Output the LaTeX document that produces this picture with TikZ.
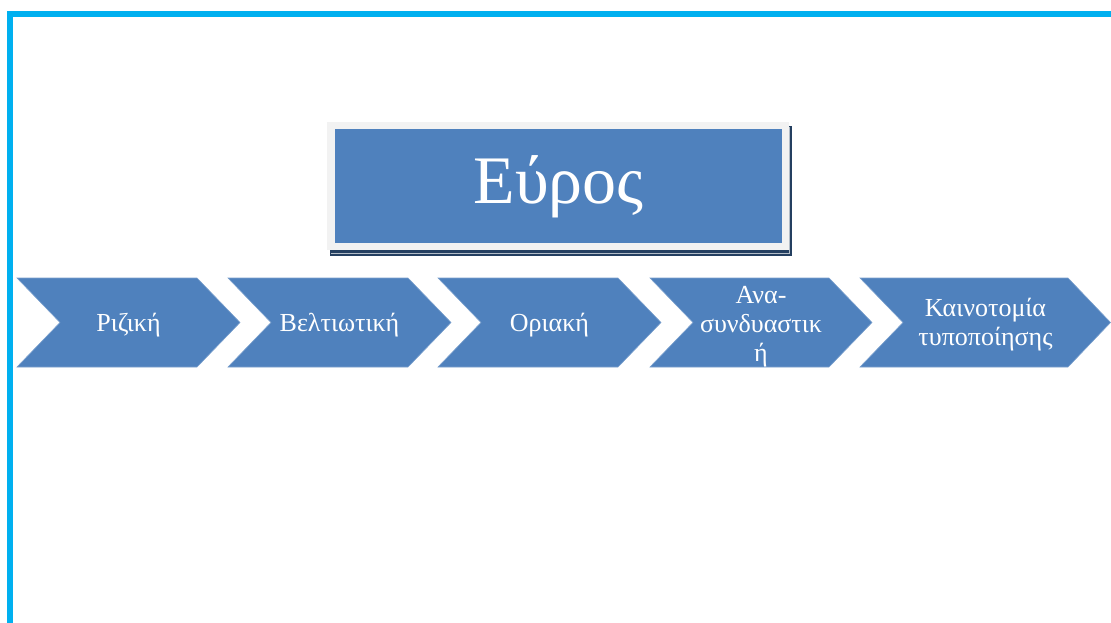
\documentclass[tikz,border=0pt]{standalone}
\usepackage{fontspec}
\setmainfont{Liberation Serif}
\usepackage{tikz}
\definecolor{rahmenblau}{HTML}{00B0F0}
\definecolor{kastenblau}{HTML}{4F81BD}
\definecolor{rahmengrau}{HTML}{F2F2F2}
\definecolor{schatten}{HTML}{243F60}

\begin{document}
\begin{tikzpicture}[x=1pt,y=-1pt,
    pfeil/.style={fill=kastenblau,draw=kastenblau!75!white,line width=0.6pt},
    beschriftung/.style={text=white,align=center,font=\fontsize{26}{29}\selectfont}]
    % Rahmen
    \useasboundingbox (0,0) rectangle (1111,623);
    \fill[rahmenblau] (7,11) rectangle (1111,17);
    \fill[rahmenblau] (7,11) rectangle (13,623);
    % Titelkasten mit Schatten
    \fill[schatten] (330,126) rectangle (792,256);
    \draw[schatten!35!white,line width=0.8pt] (331,253) -- (789.5,253) -- (789.5,127);
    \fill[rahmengrau] (327,122) rectangle (789,250);
    \fill[kastenblau] (335,129) rectangle (782,243);
    \node[text=white,font=\fontsize{68}{70}\selectfont] (titel) at (558.5,187) {Εύρος};
    % Pfeile
    \draw[pfeil] (17,278) -- (197,278) -- (240,322.5) -- (197,367) -- (17,367) -- (60,322.5) -- cycle;
    \node[beschriftung] (p1) at (128.5,325) {Ριζική};

    \draw[pfeil] (228,278) -- (408,278) -- (451,322.5) -- (408,367) -- (228,367) -- (271,322.5) -- cycle;
    \node[beschriftung] (p2) at (339.5,325) {Βελτιωτική};

    \draw[pfeil] (438,278) -- (618,278) -- (661,322.5) -- (618,367) -- (438,367) -- (481,322.5) -- cycle;
    \node[beschriftung] (p3) at (549.5,325) {Οριακή};

    \draw[pfeil] (650,278) -- (829,278) -- (872,322.5) -- (829,367) -- (650,367) -- (693,322.5) -- cycle;
    \node[beschriftung] (p4) at (761,327) {Ανα-\\συνδυαστικ\\ή};

    \draw[pfeil] (860,278) -- (1068,278) -- (1110.5,322.5) -- (1068,367) -- (860,367) -- (903,322.5) -- cycle;
    \node[beschriftung] (p5) at (985.5,325) {Καινοτομία\\τυποποίησης};
\end{tikzpicture}
\end{document}
